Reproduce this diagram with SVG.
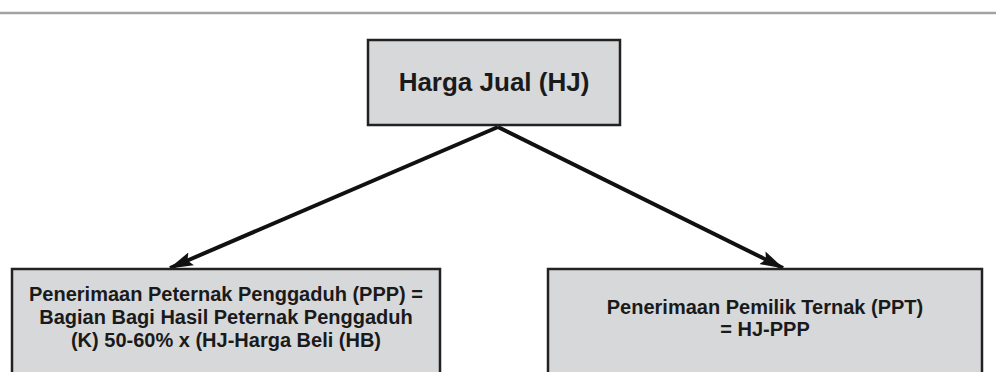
<svg xmlns="http://www.w3.org/2000/svg" width="996" height="372" viewBox="0 0 996 372">
  <style>
    .box { fill: #d7d8da; stroke: #222; stroke-width: 2.5; }
    .t { font-family: "Liberation Sans", Arial, sans-serif; font-weight: bold; fill: #1a1a1a; text-anchor: middle; }
    .conn { stroke: #111; stroke-width: 4; fill: none; }
  </style>
  <defs>
    <marker id="ah" viewBox="0 0 24 16" markerWidth="24" markerHeight="16" refX="23" refY="8" orient="auto" markerUnits="userSpaceOnUse">
      <path d="M0,1 L24,8 L0,15 L4,8 z" fill="#111"/>
    </marker>
  </defs>
  <rect x="0" y="0" width="996" height="372" fill="#fff"/>
  <line x1="0" y1="13" x2="996" y2="13" stroke="#a3a3a3" stroke-width="2.5"/>
  <g id="connectors">
    <line class="conn" x1="498" y1="127" x2="170" y2="268" marker-end="url(#ah)"/>
    <line class="conn" x1="498" y1="127" x2="783" y2="268" marker-end="url(#ah)"/>
  </g>
  <g id="hj">
    <rect class="box" x="368" y="40" width="252" height="85"/>
    <text class="t" x="494" y="91" font-size="26">Harga Jual (HJ)</text>
  </g>
  <g id="ppp">
    <rect class="box" x="12" y="269" width="428" height="120"/>
    <text class="t" x="226" y="301" font-size="20">Penerimaan Peternak Penggaduh (PPP) =</text>
    <text class="t" x="226" y="324" font-size="20">Bagian Bagi Hasil Peternak Penggaduh</text>
    <text class="t" x="226" y="347" font-size="20">(K) 50-60% x (HJ-Harga Beli (HB)</text>
  </g>
  <g id="ppt">
    <rect class="box" x="548" y="269" width="434" height="120"/>
    <text class="t" x="765" y="314" font-size="20">Penerimaan Pemilik Ternak (PPT)</text>
    <text class="t" x="765" y="336" font-size="20">= HJ-PPP</text>
  </g>
</svg>
